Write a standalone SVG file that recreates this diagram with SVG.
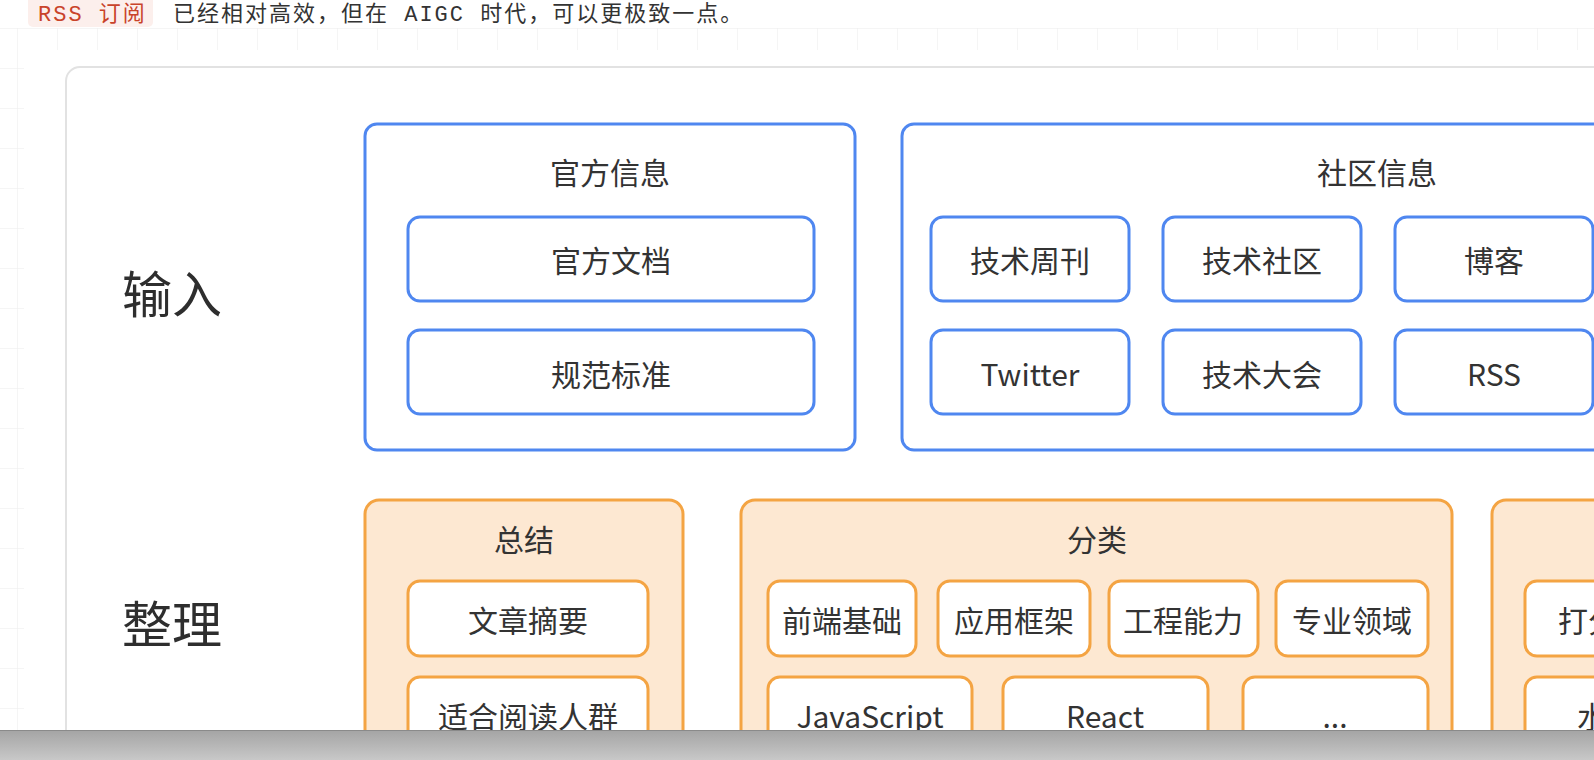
<svg xmlns="http://www.w3.org/2000/svg" width="1594" height="760" viewBox="0 0 1594 760">
  <defs>
    <pattern id="grid" x="17" y="28" width="40" height="40" patternUnits="userSpaceOnUse">
      <path d="M0 0H40M0 0V40" fill="none" stroke="#ececec" stroke-width="1"/>
    </pattern>
    <linearGradient id="bar" x1="0" y1="0" x2="0" y2="1">
      <stop offset="0" stop-color="#a4a4a4"/>
      <stop offset="1" stop-color="#c8c8c8"/>
    </linearGradient>
  </defs>
  <style>
    .t { font-family: "Noto Sans CJK SC", "Noto Sans", sans-serif; fill: #333333; text-anchor: middle; }
    .lbl { font-size: 30px; }
    .row { font-size: 50px; text-anchor: start; fill: #2e2e2e; }
    .bo { fill: #ffffff; stroke: #4f87f0; stroke-width: 3; }
    .bi { fill: #ffffff; stroke: #4f87f0; stroke-width: 3; }
    .oo { fill: #fde8d2; stroke: #f4a443; stroke-width: 3; }
    .oi { fill: #ffffff; stroke: #f4a443; stroke-width: 3; }
    .mono { font-family: "Liberation Mono", "Noto Sans CJK SC", monospace; font-size: 22px; letter-spacing: 2px; }
  </style>

  <rect x="0" y="0" width="1594" height="760" fill="#ffffff"/>
  <rect x="0" y="28" width="1594" height="702" fill="url(#grid)"/>
  <rect x="24" y="50" width="1570" height="680" fill="#ffffff"/>

  <g id="intro">
    <rect x="28" y="-8" width="125" height="35" rx="5" fill="#fcefec"/>
    <text class="mono" x="38" y="21" fill="#c9432a">RSS 订阅</text>
    <text class="mono" x="173" y="21" fill="#333333">已经相对高效，但在 AIGC 时代，可以更极致一点。</text>
  </g>

  <g id="card">
    <rect x="66" y="67" width="1600" height="720" rx="14" fill="#ffffff" stroke="#e2e2e2" stroke-width="2"/>
  </g>

  <g id="label-input"><text class="t row" x="122" y="313">输入</text></g>
  <g id="label-organize"><text class="t row" x="122" y="643">整理</text></g>

  <g id="official">
    <rect class="bo" x="365" y="124" width="490" height="326" rx="12"/>
    <text class="t lbl" x="610" y="184">官方信息</text>
  </g>
  <g id="official-docs">
    <rect class="bi" x="408" y="217" width="406" height="84" rx="12"/>
    <text class="t lbl" x="611" y="272">官方文档</text>
  </g>
  <g id="official-standards">
    <rect class="bi" x="408" y="330" width="406" height="84" rx="12"/>
    <text class="t lbl" x="611" y="386">规范标准</text>
  </g>

  <g id="community">
    <rect class="bo" x="902" y="124" width="952" height="326" rx="12"/>
    <text class="t lbl" x="1377" y="184">社区信息</text>
  </g>
  <g id="c-weekly">
    <rect class="bi" x="931" y="217" width="198" height="84" rx="12"/>
    <text class="t lbl" x="1030" y="272">技术周刊</text>
  </g>
  <g id="c-community">
    <rect class="bi" x="1163" y="217" width="198" height="84" rx="12"/>
    <text class="t lbl" x="1262" y="272">技术社区</text>
  </g>
  <g id="c-blog">
    <rect class="bi" x="1395" y="217" width="198" height="84" rx="12"/>
    <text class="t lbl" x="1494" y="272">博客</text>
  </g>
  <g id="c-twitter">
    <rect class="bi" x="931" y="330" width="198" height="84" rx="12"/>
    <text class="t lbl" x="1030" y="386">Twitter</text>
  </g>
  <g id="c-conf">
    <rect class="bi" x="1163" y="330" width="198" height="84" rx="12"/>
    <text class="t lbl" x="1262" y="386">技术大会</text>
  </g>
  <g id="c-rss">
    <rect class="bi" x="1395" y="330" width="198" height="84" rx="12"/>
    <text class="t lbl" x="1494" y="386">RSS</text>
  </g>

  <g id="summary">
    <rect class="oo" x="365" y="500" width="318" height="320" rx="14"/>
    <text class="t lbl" x="524" y="551">总结</text>
  </g>
  <g id="s-abstract">
    <rect class="oi" x="408" y="581" width="240" height="75" rx="12"/>
    <text class="t lbl" x="528" y="632">文章摘要</text>
  </g>
  <g id="s-audience">
    <rect class="oi" x="408" y="677" width="240" height="120" rx="12"/>
    <text class="t lbl" x="528" y="728">适合阅读人群</text>
  </g>

  <g id="classify">
    <rect class="oo" x="741" y="500" width="711" height="320" rx="14"/>
    <text class="t lbl" x="1097" y="551">分类</text>
  </g>
  <g id="k-basics">
    <rect class="oi" x="768" y="581" width="148" height="75" rx="12"/>
    <text class="t lbl" x="842" y="632">前端基础</text>
  </g>
  <g id="k-framework">
    <rect class="oi" x="938" y="581" width="152" height="75" rx="12"/>
    <text class="t lbl" x="1014" y="632">应用框架</text>
  </g>
  <g id="k-engineering">
    <rect class="oi" x="1109" y="581" width="149" height="75" rx="12"/>
    <text class="t lbl" x="1183" y="632">工程能力</text>
  </g>
  <g id="k-domain">
    <rect class="oi" x="1276" y="581" width="152" height="75" rx="12"/>
    <text class="t lbl" x="1352" y="632">专业领域</text>
  </g>
  <g id="k-js">
    <rect class="oi" x="768" y="677" width="204" height="120" rx="12"/>
    <text class="t lbl" x="870" y="728">JavaScript</text>
  </g>
  <g id="k-react">
    <rect class="oi" x="1003" y="677" width="205" height="120" rx="12"/>
    <text class="t lbl" x="1105" y="728">React</text>
  </g>
  <g id="k-more">
    <rect class="oi" x="1243" y="677" width="185" height="120" rx="12"/>
    <text class="t lbl" x="1335" y="728">...</text>
  </g>

  <g id="third">
    <rect class="oo" x="1492" y="500" width="420" height="320" rx="14"/>
  </g>
  <g id="t-score">
    <rect class="oi" x="1525" y="581" width="360" height="75" rx="12"/>
    <text class="t lbl" x="1558" y="632" style="text-anchor:start">打分</text>
  </g>
  <g id="t-level">
    <rect class="oi" x="1525" y="677" width="360" height="120" rx="12"/>
    <text class="t lbl" x="1577" y="728" style="text-anchor:start">水</text>
  </g>

  <g id="connectors"></g>

  <g id="bottom-bar">
    <rect x="0" y="730" width="1594" height="30" fill="url(#bar)"/>
    <line x1="0" y1="730.5" x2="1594" y2="730.5" stroke="#8a8a8a" stroke-width="1"/>
  </g>
</svg>
